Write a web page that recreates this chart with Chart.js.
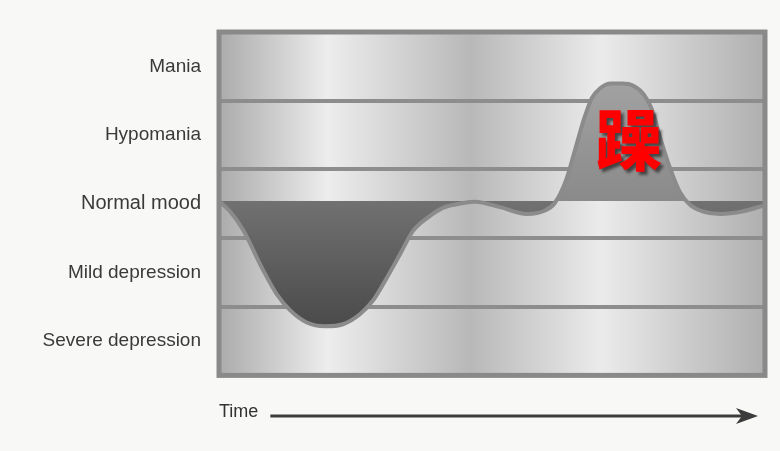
<!DOCTYPE html>
<html>
<head>
<meta charset="utf-8">
<script src="https://cdn.jsdelivr.net/npm/chart.js@4/dist/chart.umd.min.js"></script>
<style>
  html, body { margin: 0; padding: 0; background: #f8f8f7; }
  #wrap { width: 780px; height: 451px; position: relative; }
</style>
</head>
<body>
<div id="wrap"><canvas id="chart"></canvas></div>
<script>
// mood bands, bottom to top (one unit each on the y scale)
const bandLabels = ["Severe depression", "Mild depression", "Normal mood", "Hypomania", "Mania"];

// time (0-100) and mood level (0-5)
const timePoints = [0, 2.0, 4.4, 8.1, 10.6, 13.0, 16.1, 19.4, 22.7, 25.8, 28.2, 30.8, 33.2, 35.5, 38.1, 41.0,
  44.7, 46.9, 51.5, 56.4, 59.7, 61.5, 63.6, 65.2, 66.8, 68.3, 69.8, 71.8, 73.8, 75.8, 77.8, 79.3, 80.8,
  82.6, 84.4, 86.3, 88.5, 91.8, 96.0, 100];
const moodLevels = [2.54, 2.39, 2.12, 1.53, 1.18, 0.95, 0.77, 0.715, 0.745, 0.89, 1.09, 1.43, 1.77, 2.10, 2.29, 2.44,
  2.51, 2.53, 2.45, 2.35, 2.40, 2.51, 2.85, 3.28, 3.72, 4.04, 4.18, 4.25, 4.25, 4.22, 4.09, 3.87, 3.46,
  3.02, 2.67, 2.48, 2.39, 2.35, 2.39, 2.48];

const normalLevel = 2.54;
const maniaMark = { text: "躁", x: 75.1, y: 3.43 };

const moodPoints = timePoints.map((t, i) => ({ x: t, y: moodLevels[i] }));

function fillGradient(context) {
  const { ctx, chartArea, scales } = context.chart;
  if (!chartArea) return "#777";
  const y = scales.y;
  const top = y.getPixelForValue(4.3);
  const bottom = y.getPixelForValue(0.7);
  const base = (y.getPixelForValue(normalLevel) - top) / (bottom - top);
  const g = ctx.createLinearGradient(0, top, 0, bottom);
  g.addColorStop(0, "#a2a2a2");
  g.addColorStop(base - 0.001, "#8a8a8a");
  g.addColorStop(base, "#717171");
  g.addColorStop(1, "#4a4a4a");
  return g;
}

const panelBackground = {
  id: "panelBackground",
  beforeDraw(chart) {
    const { ctx, chartArea: a } = chart;
    const g = ctx.createLinearGradient(a.left, 0, a.right, 0);
    g.addColorStop(0, "#ababab");
    g.addColorStop(0.2, "#ededed");
    g.addColorStop(0.46, "#b8b8b8");
    g.addColorStop(0.7, "#ebebeb");
    g.addColorStop(1, "#afafaf");
    ctx.save();
    ctx.fillStyle = g;
    ctx.fillRect(a.left, a.top, a.right - a.left, a.bottom - a.top);
    ctx.restore();
  },
  afterDatasetsDraw(chart) {
    const { ctx, chartArea: a, scales } = chart;
    ctx.save();
    ctx.strokeStyle = "#898989";
    ctx.lineWidth = 5;
    ctx.strokeRect(a.left, a.top, a.right - a.left, a.bottom - a.top);

    ctx.font = '900 66px "Noto Sans CJK SC"';
    ctx.textAlign = "center";
    ctx.textBaseline = "middle";
    ctx.fillStyle = "#ff0000";
    ctx.shadowColor = "rgba(0,0,0,0.55)";
    ctx.shadowOffsetX = 3;
    ctx.shadowOffsetY = 3;
    ctx.shadowBlur = 3;
    ctx.fillText(maniaMark.text, scales.x.getPixelForValue(maniaMark.x), scales.y.getPixelForValue(maniaMark.y));
    ctx.restore();
  },
  afterDraw(chart) {
    const { ctx, chartArea: a, scales } = chart;
    const title = scales.x.options.title;
    ctx.save();
    ctx.font = `${title.font.size}px ${title.font.family}`;
    const start = a.left + ctx.measureText(title.text).width + 12;
    const y = scales.x.bottom - 35;
    const tip = a.right - 7;
    ctx.strokeStyle = "#3c3c3c";
    ctx.lineWidth = 3;
    ctx.beginPath();
    ctx.moveTo(start, y);
    ctx.lineTo(tip - 14, y);
    ctx.stroke();
    ctx.fillStyle = "#3c3c3c";
    ctx.beginPath();
    ctx.moveTo(tip, y);
    ctx.lineTo(tip - 22, y - 8);
    ctx.lineTo(tip - 16, y);
    ctx.lineTo(tip - 22, y + 8);
    ctx.closePath();
    ctx.fill();
    ctx.restore();
  },
};

new Chart(document.getElementById("chart"), {
  type: "line",
  data: {
    datasets: [{
      data: moodPoints,
      borderColor: "#8b8b8b",
      borderWidth: 4,
      backgroundColor: fillGradient,
      fill: { value: normalLevel },
      pointRadius: 0,
      cubicInterpolationMode: "monotone",
    }],
  },
  options: {
    responsive: true,
    maintainAspectRatio: false,
    animation: false,
    layout: { padding: { top: 32, right: 15, bottom: 0, left: 0 } },
    plugins: { legend: { display: false }, tooltip: { enabled: false } },
    scales: {
      x: {
        type: "linear",
        min: 0,
        max: 100,
        ticks: { display: false },
        grid: { display: false },
        border: { display: false },
        title: {
          display: true,
          text: "Time",
          align: "start",
          color: "#333",
          font: { size: 18, family: '"Liberation Sans", Arial, sans-serif' },
          padding: { top: 18, bottom: 28 },
        },
      },
      y: {
        min: 0,
        max: 5,
        afterFit(scale) { scale.width = 219; },
        afterBuildTicks(scale) {
          scale.ticks = [0, 0.5, 1, 1.5, 2, 2.5, 3, 3.5, 4, 4.5, 5].map((v) => ({ value: v }));
        },
        ticks: {
          padding: 18,
          color: "#3a3a3a",
          font: (ctx) => ({
            size: ctx.tick && ctx.tick.value === 2.5 ? 20 : 19,
            family: '"Liberation Sans", Arial, sans-serif',
          }),
          callback: (v) => (v % 1 === 0.5 ? bandLabels[Math.floor(v)] : ""),
        },
        grid: {
          drawTicks: false,
          lineWidth: 4,
          color: (ctx) => {
            const v = ctx.tick && ctx.tick.value;
            return Number.isInteger(v) && v > 0 && v < 5 ? "#8d8d8d" : "rgba(0,0,0,0)";
          },
        },
        border: { display: false },
      },
    },
  },
  plugins: [panelBackground],
});
</script>
</body>
</html>
